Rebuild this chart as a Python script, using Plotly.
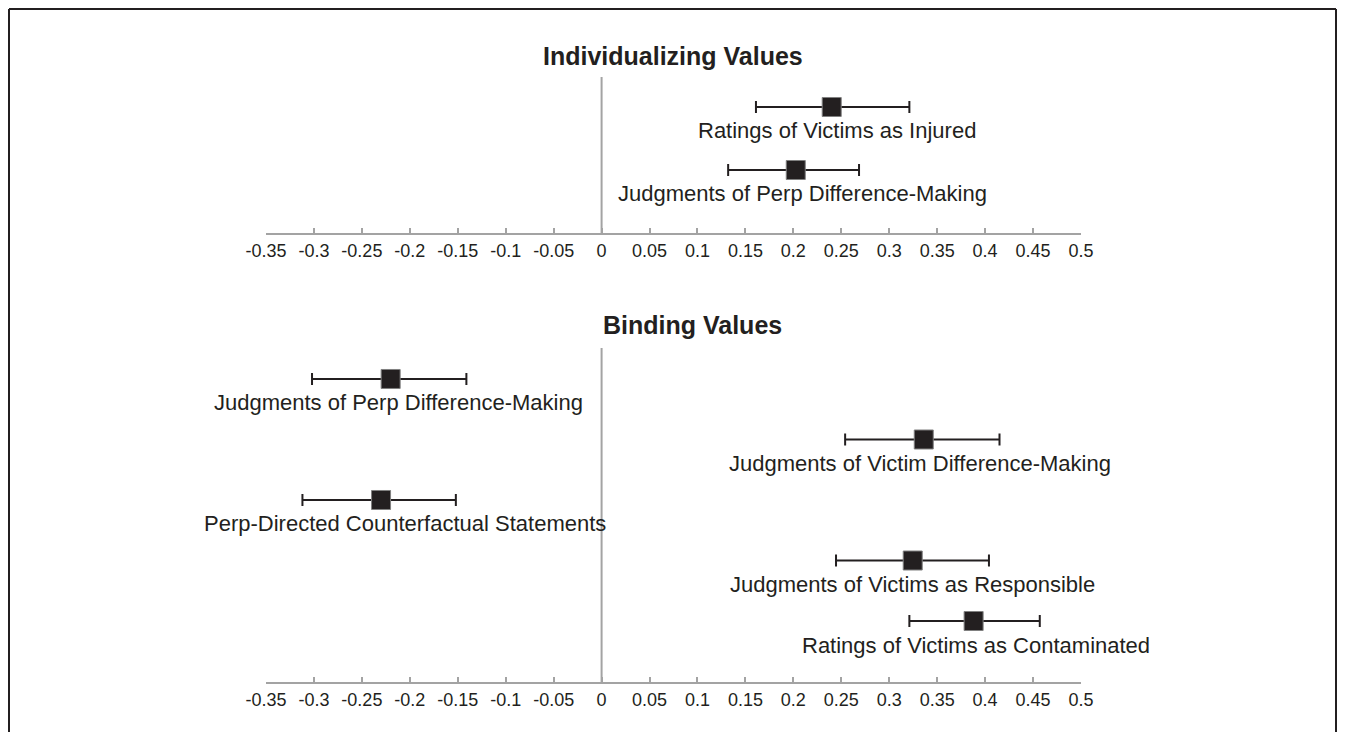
import plotly.graph_objects as go

# ---------------- data ----------------
tick_vals = [-0.35, -0.3, -0.25, -0.2, -0.15, -0.1, -0.05, 0, 0.05, 0.1, 0.15, 0.2, 0.25, 0.3, 0.35, 0.4, 0.45, 0.5]
tick_text = ["-0.35", "-0.3", "-0.25", "-0.2", "-0.15", "-0.1", "-0.05", "0", "0.05", "0.1", "0.15", "0.2", "0.25", "0.3", "0.35", "0.4", "0.45", "0.5"]

top_title = "Individualizing Values"
top_labels = ["Ratings of Victims as Injured", "Judgments of Perp Difference-Making"]
top_est = [0.240, 0.2025]
top_lo = [0.161, 0.132]
top_hi = [0.321, 0.2685]

bottom_title = "Binding Values"
bottom_labels = ["Judgments of Perp Difference-Making",
                 "Judgments of Victim Difference-Making",
                 "Perp-Directed Counterfactual Statements",
                 "Judgments of Victims as Responsible",
                 "Ratings of Victims as Contaminated"]
bottom_est = [-0.220, 0.336, -0.230, 0.3245, 0.388]
bottom_lo = [-0.302, 0.254, -0.312, 0.2445, 0.321]
bottom_hi = [-0.141, 0.415, -0.152, 0.404, 0.457]

# ---------------- style ----------------
OFF = 8                      # default page margin around the figure
W, H = 1345 - 2 * OFF, 740 - 2 * OFF
FONT = "Liberation Sans, Arial, sans-serif"
INK = "#231f20"
GRAY = "#a3a3a3"
label_xshift_top = [5, 7]
label_xshift_bottom = [8, -4, 24, 0, 2]


def px(x):
    return (x - OFF) / W


def py(y):
    return 1 - (y - OFF) / H


fig = go.Figure()


def add_panel(est, lo, hi, xa, ya):
    rows = list(range(1, len(est) + 1))
    fig.add_trace(go.Scatter(
        x=est, y=rows, mode="markers", xaxis=xa, yaxis=ya,
        marker=dict(symbol="square", size=19, color=INK, line=dict(color="#808080", width=1)),
        error_x=dict(type="data", symmetric=False,
                     array=[h - e for h, e in zip(hi, est)],
                     arrayminus=[e - l for e, l in zip(est, lo)],
                     color=INK, thickness=2, width=6),
        showlegend=False, hoverinfo="skip", cliponaxis=False))
    return rows


rows_top = add_panel(top_est, top_lo, top_hi, "x", "y")
rows_bot = add_panel(bottom_est, bottom_lo, bottom_hi, "x2", "y2")

x_dom = [px(266), px(1081)]
top_dom = [py(233), py(77)]
bot_dom = [py(682), py(348)]

axis_common = dict(range=[-0.35, 0.5], tickmode="array", tickvals=tick_vals, ticktext=tick_text,
                   showgrid=False, zeroline=False, showline=True, linecolor=GRAY, linewidth=2,
                   ticks="inside", ticklen=5, tickwidth=2, tickcolor=GRAY, automargin=False,
                   tickfont=dict(family=FONT, size=18, color=INK), fixedrange=True)

fig.update_layout(
    width=W, height=H, margin=dict(l=0, r=0, t=0, b=0, pad=0, autoexpand=False),
    paper_bgcolor="white", plot_bgcolor="white",
    xaxis=dict(domain=x_dom, anchor="y", **axis_common),
    xaxis2=dict(domain=x_dom, anchor="y2", **axis_common),
    yaxis=dict(domain=top_dom, range=[3.0, 0.524], visible=False, anchor="x", automargin=False),
    yaxis2=dict(domain=bot_dom, range=[6.008, 0.488], visible=False, anchor="x2", automargin=False),
)

# zero reference lines
for xr, yr in (("x", "y domain"), ("x2", "y2 domain")):
    fig.add_shape(type="line", xref=xr, yref=yr, x0=0, x1=0, y0=0, y1=1,
                  line=dict(color=GRAY, width=2), layer="below")

# frame (left, top, right)
fl, ft, fr, fb = 9, 9, 1336, 760
for x0, y0, x1, y1 in ((fl, ft, fl, fb), (fl, ft, fr, ft), (fr, ft, fr, fb)):
    fig.add_shape(type="line", xref="paper", yref="paper",
                  x0=px(x0), x1=px(x1), y0=py(y0), y1=py(y1),
                  line=dict(color=INK, width=2))

# labels
for lab, e, r, dx in zip(top_labels, top_est, rows_top, label_xshift_top):
    fig.add_annotation(x=e, y=r, xref="x", yref="y", text=lab, showarrow=False,
                       xanchor="center", yanchor="middle", yshift=-24, xshift=dx,
                       font=dict(family=FONT, size=22, color=INK))
for lab, e, r, dx in zip(bottom_labels, bottom_est, rows_bot, label_xshift_bottom):
    fig.add_annotation(x=e, y=r, xref="x2", yref="y2", text=lab, showarrow=False,
                       xanchor="center", yanchor="middle", yshift=-24, xshift=dx,
                       font=dict(family=FONT, size=22, color=INK))

# titles
fig.add_annotation(x=px(673), y=py(56), xref="paper", yref="paper", text="<b>" + top_title + "</b>",
                   showarrow=False, xanchor="center", yanchor="middle",
                   font=dict(family=FONT, size=25, color=INK))
fig.add_annotation(x=px(692), y=py(325), xref="paper", yref="paper", text="<b>" + bottom_title + "</b>",
                   showarrow=False, xanchor="center", yanchor="middle",
                   font=dict(family=FONT, size=25, color=INK))

fig.write_html("out.html")
